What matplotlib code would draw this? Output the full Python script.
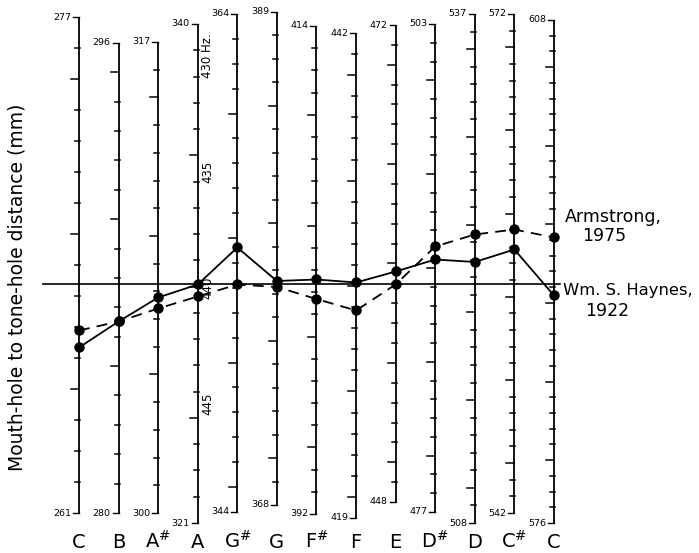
import matplotlib
matplotlib.use("Agg")
import matplotlib.pyplot as plt
import numpy as np

# ---- data ----
notes = ['C', 'B', 'A#', 'A', 'G#', 'G', 'F#', 'F', 'E', 'D#', 'D', 'C#', 'C']
freq_top = [277, 296, 317, 340, 364, 389, 414, 442, 472, 503, 537, 572, 608]
freq_bottom = [261, 280, 300, 321, 344, 368, 392, 419, 448, 477, 508, 542, 576]
# scale ends (relative units, 0 = A440 reference line)
scale_top = [26.75, 24.15, 24.25, 26.05, 27.05, 27.25, 25.85, 25.15, 25.95, 26.05, 27.05, 27.05, 26.45]
scale_bottom = [-22.85, -22.85, -22.85, -23.85, -22.75, -22.05, -22.95, -23.35, -21.75, -22.75, -23.85, -22.85, -23.85]
haynes_1922 = [-6.3, -3.7, -1.3, 0.0, 3.7, 0.35, 0.5, 0.2, 1.3, 2.5, 2.25, 3.5, -1.1]
armstrong_1975 = [-4.6, -3.7, -2.4, -1.2, 0.0, -0.25, -1.45, -2.6, 0.0, 3.8, 5.0, 5.5, 4.7]
tuning = [430, 435, 440, 445]
tuning_text = ['430 Hz.', '435', '440', '445']

W, H = 699, 553
PX_X = 39.58   # pixels per note step
PX_Y = 10.0    # pixels per unit
fig = plt.figure(figsize=(W / 100, H / 100), dpi=100)
ax = fig.add_axes([0, 0, 1, 1])
x0 = 79
ax.set_xlim(-x0 / PX_X, (W - x0) / PX_X)
ax.set_ylim(-(H - 284.5) / PX_Y, 284.5 / PX_Y)
ax.axis('off')

dx = 1 / PX_X
xs = np.arange(len(notes))
lw = 1.3
fs_small = 6.8

for i in xs:
    yt, yb = scale_top[i], scale_bottom[i]
    ft, fb = freq_top[i], freq_bottom[i]
    ax.plot([i, i], [yb, yt], color='black', lw=lw, solid_capstyle='butt', zorder=2)
    # end ticks
    ax.plot([i - 6 * dx, i], [yt, yt], color='black', lw=1.0)
    ax.plot([i - 6 * dx, i], [yb, yb], color='black', lw=1.0)
    ax.text(i - 8 * dx, yt, str(ft), ha='right', va='center', fontsize=fs_small)
    ax.text(i - 8 * dx, yb, str(fb), ha='right', va='center', fontsize=fs_small)
    # internal ticks every Hz
    for f in range(fb + 1, ft):
        y = yt + (ft - f) / (ft - fb) * (yb - yt)
        if f % 5 == 0:
            ax.plot([i - 8 * dx, i], [y, y], color='black', lw=1.1)
        else:
            ax.plot([i - 4 * dx, i + 1 * dx], [y, y], color='black', lw=1.1)
    # note label
    n = notes[i]
    if '#' in n:
        lab = n[0] + r'$^{\#}$'
    else:
        lab = n
    ax.text(i, -(548 - 284.5) / PX_Y, lab, ha='center', va='baseline', fontsize=14)

# reference line (A = 440)
ax.plot([(43 - x0) * dx, (560 - x0) * dx], [0, 0], color='black', lw=1.2, zorder=1)

# tuning labels along the A scale
ia = notes.index('A')
for t, s in zip(tuning, tuning_text):
    y = (440 - t) * 2.32 - 0.3
    ax.text(ia + 10 * dx, y, s, rotation=90, ha='center', va='center', fontsize=8.5, zorder=6)

ax.plot(xs, haynes_1922, color='black', lw=1.3, marker='o', ms=6.5, zorder=4)
ax.plot(xs, armstrong_1975, color='black', lw=1.3, ls=(0, (6, 4)), marker='o', ms=6.5, zorder=4)

tk = dict(fontsize=12.5, ha='left', va='center')
fig.text(565 / W, 1 - 217 / H, 'Armstrong,', **tk)
fig.text(582 / W, 1 - 236 / H, '1975', **tk)
fig.text(563 / W, 1 - 291 / H, 'Wm. S. Haynes,', fontsize=11.8, ha='left', va='center')
fig.text(585 / W, 1 - 311 / H, '1922', **tk)

fig.text(17 / W, 1 - 287 / H, 'Mouth-hole to tone-hole distance (mm)', rotation=90,
         ha='center', va='center', fontsize=13.5)

fig.savefig('out.png', dpi=100)
